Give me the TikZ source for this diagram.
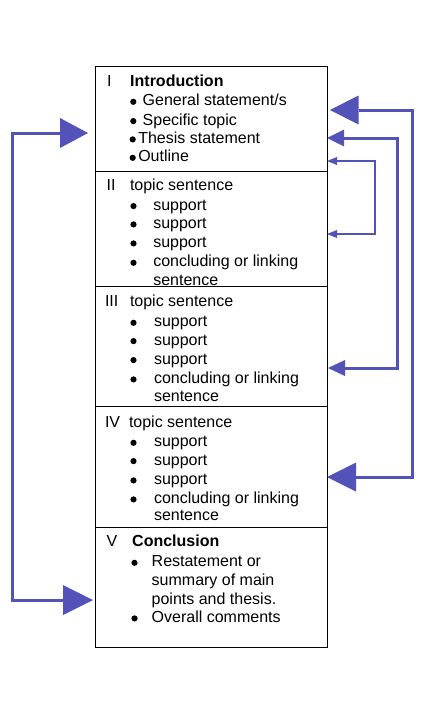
\documentclass[tikz,border=0pt]{standalone}
\usepackage{fontspec}
\setmainfont{Liberation Sans}
\usetikzlibrary{arrows.meta,calc}
\definecolor{arrowblue}{RGB}{82,82,184}
\begin{document}
\begin{tikzpicture}[x=1pt,y=1pt,
  sec/.style={draw=black,line width=1pt,rectangle,inner sep=0pt,minimum width=231.5pt,anchor=north west},
  txt/.style={font=\fontsize{16}{19}\selectfont,anchor=base west,inner sep=0pt,outer sep=0pt},
  dot/.style={circle,fill=black,inner sep=0pt,minimum size=6.2pt,yshift=0.4pt},
  arr/.style={draw=arrowblue,line width=#1,line join=miter},
]
\useasboundingbox (0,0) rectangle (425,-709);
\fill[white] (0,0) rectangle (425,-709);

% sections
\node[sec,minimum height=104.5pt] (s1) at (95,-66) {};
\node[sec,minimum height=115.5pt] (s2) at (95,-170.5) {};
\node[sec,minimum height=119.5pt] (s3) at (95,-286) {};
\node[sec,minimum height=121.5pt] (s4) at (95,-405.5) {};
\node[sec,minimum height=120pt] (s5) at (95,-527) {};

% Section I
\node[txt] (n1) at (107,-86) {I};
\node[txt] (h1) at (130.2,-86) {\textbf{Introduction}};
\node[dot] (b11) at (133.3,-102.2) {};
\node[txt] (t11) at (142.7,-105.7) {General statement/s};
\node[dot] (b12) at (133.3,-121.5) {};
\node[txt] (t12) at (142.7,-125) {Specific topic};
\node[dot] (b13) at (132.7,-139.8) {};
\node[txt] (t13) at (138.3,-143.3) {Thesis statement};
\node[dot] (b14) at (132.7,-158.2) {};
\node[txt] (t14) at (138.3,-161.7) {Outline};

% Section II
\node[txt] (n2) at (106.7,-190) {II};
\node[txt] (h2) at (130,-190) {topic sentence};
\node[dot] (b21) at (133.5,-206.5) {};
\node[txt] (t21) at (153.3,-210) {support};
\node[dot] (b22) at (133.5,-224.8) {};
\node[txt] (t22) at (153.3,-228.3) {support};
\node[dot] (b23) at (133.5,-243.8) {};
\node[txt] (t23) at (153.3,-247.3) {support};
\node[dot] (b24) at (133.5,-263.2) {};
\node[txt] (t24) at (153.3,-266.7) {concluding or linking};
\node[txt] (t25) at (153.3,-285) {sentence};

% Section III
\node[txt] (n3) at (105,-306) {III};
\node[txt] (h3) at (130,-306) {topic sentence};
\node[dot] (b31) at (133.5,-323.2) {};
\node[txt] (t31) at (154,-326.7) {support};
\node[dot] (b32) at (133.5,-341.5) {};
\node[txt] (t32) at (154,-345) {support};
\node[dot] (b33) at (133.5,-360.5) {};
\node[txt] (t33) at (154,-364) {support};
\node[dot] (b34) at (133.5,-379.8) {};
\node[txt] (t34) at (154,-383.3) {concluding or linking};
\node[txt] (t35) at (154,-401.7) {sentence};

% Section IV
\node[txt] (n4) at (105,-427) {IV};
\node[txt] (h4) at (129,-427) {topic sentence};
\node[dot] (b41) at (133.5,-443.2) {};
\node[txt] (t41) at (154,-446.7) {support};
\node[dot] (b42) at (133.5,-461.5) {};
\node[txt] (t42) at (154,-465) {support};
\node[dot] (b43) at (133.5,-480.8) {};
\node[txt] (t43) at (154,-484.3) {support};
\node[dot] (b44) at (133.5,-499.8) {};
\node[txt] (t44) at (154,-503.3) {concluding or linking};
\node[txt] (t45) at (154,-520) {sentence};

% Section V
\node[txt] (n5) at (106.5,-546.7) {V};
\node[txt] (h5) at (132.2,-546.7) {\textbf{Conclusion}};
\node[dot] (b51) at (134.5,-563.2) {};
\node[txt] (t51) at (151.7,-566.7) {Restatement or};
\node[txt] (t52) at (151.7,-585.7) {summary of main};
\node[txt] (t53) at (151.7,-604) {points and thesis.};
\node[dot] (b52) at (134.5,-618.8) {};
\node[txt] (t54) at (151.7,-622.3) {Overall comments};

% arrow end points
\coordinate (ra1) at (330,-110);
\coordinate (ra2) at (327,-477);
\coordinate (ka) at (412,0);
\coordinate (rb1) at (327,-138);
\coordinate (rb2) at (328,-368);
\coordinate (kb) at (397,0);
\coordinate (rc1) at (327,-161);
\coordinate (rc2) at (327,-234);
\coordinate (kc) at (375,0);
\coordinate (la1) at (88,-133);
\coordinate (la2) at (93,-600);
\coordinate (kl) at (12,0);

% arrows
\draw[arr=3pt,{Triangle[length=28.5pt,width=29pt,line width=0pt]}-{Triangle[length=29pt,width=29pt,line width=0pt]}]
  (ra1) -- (ra1 -| ka) -- (ra2 -| ka) -- (ra2);
\draw[arr=3pt,{Triangle[length=17pt,width=17pt,line width=0pt]}-{Triangle[length=17pt,width=16pt,line width=0pt]}]
  (rb1) -- (rb1 -| kb) -- (rb2 -| kb) -- (rb2);
\draw[arr=2pt,{Triangle[length=10pt,width=8pt,line width=0pt]}-{Triangle[length=10pt,width=8pt,line width=0pt]}]
  (rc1) -- (rc1 -| kc) -- (rc2 -| kc) -- (rc2);
\draw[arr=3pt,{Triangle[length=28pt,width=30pt,line width=0pt]}-{Triangle[length=30pt,width=30pt,line width=0pt]}]
  (la1) -- (la1 -| kl) -- (la2 -| kl) -- (la2);
\end{tikzpicture}
\end{document}
